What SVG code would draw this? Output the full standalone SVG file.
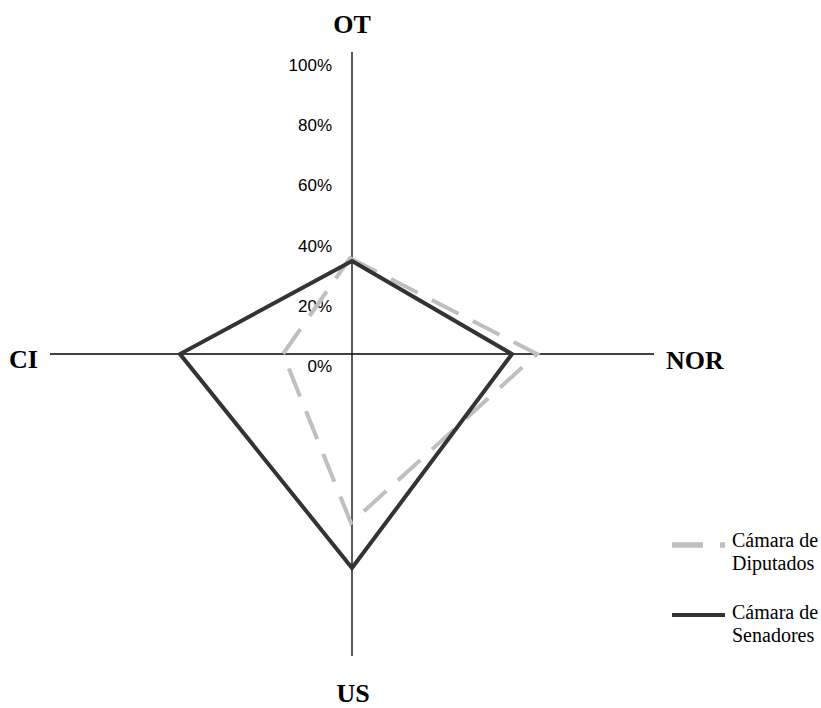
<svg xmlns="http://www.w3.org/2000/svg" width="821" height="708" viewBox="0 0 821 708">
<style>
.axis{stroke:#000;stroke-width:1.3;fill:none}
.tick{font-family:"Liberation Sans",Arial,sans-serif;font-size:17px;fill:#000;text-anchor:end}
.lab{font-family:"Liberation Serif","Times New Roman",serif;font-size:26px;font-weight:bold;fill:#000}
.leg{font-family:"Liberation Serif","Times New Roman",serif;font-size:20px;fill:#000}
.dip{stroke:#bfbfbf;stroke-width:4;fill:none;stroke-dasharray:30,16;stroke-linejoin:miter}
.sen{stroke:#333;stroke-width:4;fill:none;stroke-linejoin:miter}
</style>
<rect width="821" height="708" fill="#fff"/>
<g id="axes">
<line class="axis" x1="352" y1="52" x2="352" y2="656"/>
<line class="axis" x1="50" y1="354" x2="654" y2="354"/>
</g>
<g id="ticks">
<text class="tick" x="332" y="71">100%</text>
<text class="tick" x="332" y="131">80%</text>
<text class="tick" x="332" y="191">60%</text>
<text class="tick" x="332" y="252">40%</text>
<text class="tick" x="332" y="312">20%</text>
<text class="tick" x="332" y="372">0%</text>
</g>
<g id="axis-labels">
<text class="lab" x="352" y="33" text-anchor="middle">OT</text>
<text class="lab" x="9" y="368">CI</text>
<text class="lab" x="666" y="369">NOR</text>
<text class="lab" x="353" y="702" text-anchor="middle">US</text>
</g>
<g id="series">
<polygon id="diputados" class="dip" points="350,258 537,354 351,523 283,354"/>
<polygon id="senadores" class="sen" points="352,261 512,354 352,568 180,354"/>
</g>
<g id="legend">
<line class="dip" x1="672" y1="545" x2="725" y2="545" style="stroke-width:5.5;stroke-dasharray:31,17"/>
<text class="leg" x="732" y="547">Cámara de</text>
<text class="leg" x="732" y="570">Diputados</text>
<line class="sen" x1="672" y1="615" x2="725" y2="615"/>
<text class="leg" x="732" y="619">Cámara de</text>
<text class="leg" x="732" y="642">Senadores</text>
</g>
</svg>
